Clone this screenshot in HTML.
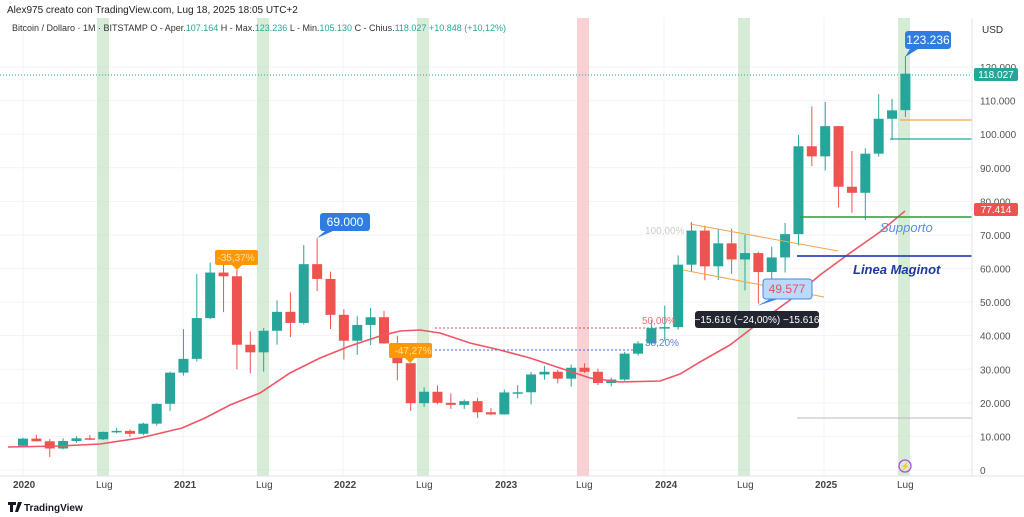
<!DOCTYPE html>
<html><head><meta charset="utf-8"><style>
body{margin:0;width:1024px;height:517px;background:#fff;font-family:"Liberation Sans",sans-serif;overflow:hidden;position:relative}
svg{position:absolute;left:0;top:0}
</style></head><body>
<svg id="s" width="1024" height="517" viewBox="0 0 1024 517" font-family="Liberation Sans, sans-serif">
<g id="grid" stroke="#f0f3fa" stroke-width="1"></g>
<g fill="#c8e6c9" opacity="0.75">
<rect x="97" y="18" width="12" height="458"/><rect x="257" y="18" width="12" height="458"/><rect x="417" y="18" width="12" height="458"/>
<rect x="738" y="18" width="12" height="458"/><rect x="898" y="18" width="12" height="458"/></g>
<rect x="577" y="18" width="12" height="458" fill="#f8c8cc" opacity="0.85"/>
<line x1="0" y1="75" x2="972" y2="75" stroke="#26a69a" stroke-dasharray="1,2" stroke-width="1"/>
<line x1="435" y1="328" x2="660" y2="328" stroke="#e05260" stroke-dasharray="2,2"/>
<line x1="435" y1="350" x2="640" y2="350" stroke="#3f6ed8" stroke-dasharray="2,2"/>
<line x1="0" y1="231" x2="640" y2="231" stroke="#ddd" stroke-dasharray="1,2" opacity="0"/>
<g id="c"></g>
<polyline fill="none" stroke="#ef5565" stroke-width="1.6" points="8,447 60,446 100,444 140,438 182,428 205,418 230,405 260,393 290,373 320,358 350,346 380,336 400,331 420,330 440,333 470,343 500,350 530,358 560,368 590,378 620,382 660,381 680,374 700,362 730,345 760,322 790,300 820,275 850,253 880,232 905,211"/>
<line x1="690" y1="224" x2="838" y2="251" stroke="#f5a54a" stroke-width="1"/>
<line x1="683" y1="270" x2="824" y2="297" stroke="#f5a54a" stroke-width="1"/>
<line x1="900" y1="120" x2="972" y2="120" stroke="#f5a54a" stroke-width="1.2"/>
<line x1="890" y1="139" x2="972" y2="139" stroke="#26a69a" stroke-width="1.2"/>
<line x1="800" y1="217" x2="972" y2="217" stroke="#2e9a3a" stroke-width="1.5"/>
<line x1="797" y1="256" x2="972" y2="256" stroke="#2949b8" stroke-width="1.8"/>
<line x1="797" y1="418" x2="972" y2="418" stroke="#bbb" stroke-width="1"/>
<text x="645" y="234" font-size="10" fill="#ccc">100,00%</text>
<text x="642" y="324" font-size="10" fill="#e57373">50,00%</text>
<text x="645" y="346" font-size="10" fill="#5c7fd8">38,20%</text>
<text x="880" y="232" font-size="13" font-style="italic" fill="#5b8fe0">Supporto</text>
<text x="853" y="274" font-size="13" font-weight="bold" font-style="italic" fill="#1c3a9e">Linea Maginot</text>
<!-- callouts -->
<rect x="905" y="31" width="46" height="18" rx="3" fill="#2f7de1"/><path d="M910 49 L905 57 L918 49Z" fill="#2f7de1"/>
<text x="928" y="44" font-size="12" fill="#fff" text-anchor="middle">123.236</text>
<rect x="320" y="213" width="50" height="18" rx="3" fill="#2f7de1"/><path d="M325 231 L317 238 L333 231Z" fill="#2f7de1"/>
<text x="345" y="226" font-size="12" fill="#fff" text-anchor="middle">69.000</text>
<rect x="215" y="250" width="43" height="15" rx="2" fill="#ff9800"/><path d="M232 265 L237 270 L242 265Z" fill="#ff9800"/>
<text x="236" y="261" font-size="10" fill="#ffe0b2" text-anchor="middle">-35,37%</text>
<rect x="389" y="343" width="43" height="15" rx="2" fill="#ff9800"/><path d="M405 358 L410 363 L415 358Z" fill="#ff9800"/>
<text x="413" y="354" font-size="10" fill="#ffe0b2" text-anchor="middle">-47,27%</text>
<rect x="763" y="279" width="49" height="20" rx="3" fill="#bcd8fb" stroke="#3f88e8"/><path d="M770 299 L757 306 L778 299Z" fill="#3f88e8"/>
<text x="787" y="293" font-size="12" fill="#e05260" text-anchor="middle">49.577</text>
<rect x="695" y="311" width="124" height="17" rx="3" fill="#222631"/>
<text x="757" y="323" font-size="10" fill="#fff" text-anchor="middle">−15.616 (−24,00%) −15.616</text>
<!-- axes -->
<line x1="972" y1="18" x2="972" y2="476" stroke="#e0e3eb"/>
<line x1="0" y1="476" x2="1024" y2="476" stroke="#e0e3eb"/>
<g id="yl" font-size="10" fill="#555"></g>
<text x="982" y="33" font-size="10" fill="#333">USD</text>
<rect x="974" y="68" width="44" height="13" rx="2" fill="#26a69a"/><text x="996" y="78" font-size="10" fill="#fff" text-anchor="middle">118.027</text>
<rect x="974" y="203" width="44" height="13" rx="2" fill="#ef5350"/><text x="996" y="213" font-size="10" fill="#fff" text-anchor="middle">77.414</text>
<g font-size="10" fill="#444">
<text x="13" y="488" font-weight="bold">2020</text><text x="96" y="488">Lug</text>
<text x="174" y="488" font-weight="bold">2021</text><text x="256" y="488">Lug</text>
<text x="334" y="488" font-weight="bold">2022</text><text x="416" y="488">Lug</text>
<text x="495" y="488" font-weight="bold">2023</text><text x="576" y="488">Lug</text>
<text x="655" y="488" font-weight="bold">2024</text><text x="737" y="488">Lug</text>
<text x="815" y="488" font-weight="bold">2025</text><text x="897" y="488">Lug</text></g>
<circle cx="905" cy="466" r="6" fill="none" stroke="#b04cd8" stroke-width="1.3"/><text x="905" y="469" font-size="8" fill="#b04cd8" text-anchor="middle">⚡</text>
<text x="7" y="13" font-size="10" fill="#222">Alex975 creato con TradingView.com, Lug 18, 2025 18:05 UTC+2</text>
<text x="12" y="31" font-size="9" fill="#333">Bitcoin / Dollaro · 1M · BITSTAMP  O - Aper.<tspan fill="#26a69a">107.164</tspan>  H - Max.<tspan fill="#26a69a">123.236</tspan>  L - Min.<tspan fill="#26a69a">105.130</tspan>  C - Chius.<tspan fill="#26a69a">118.027</tspan>  <tspan fill="#26a69a">+10.848 (+10,12%)</tspan></text>
<path d="M8 502 h8 v3 h-3 v7 h-3 v-7 h-2z M18 502 l-3 10 h3 l4 -10z" fill="#131722"/>
<text x="24" y="511" font-size="10" font-weight="bold" fill="#131722">TradingView</text>
</svg>
<script>
var d=[[7200,9600,6850,9350],[9350,10500,8450,8550],[8550,9200,3850,6400],[6400,9450,6150,8630],[8630,10050,8100,9450],[9450,10400,8900,9140],[9140,11450,8950,11350],[11350,12480,10950,11650],[11650,12100,9850,10780],[10780,14100,10400,13800],[13800,19900,13200,19700],[19700,29300,17600,28990],
[28990,41950,28100,33100],[33100,58350,32300,45240],[45240,61780,44950,58800],[58800,64900,47000,57700],[57700,59600,30000,37300],[37300,41300,28800,35040],[35040,42300,29300,41460],[41460,50500,37300,47100],[47100,52900,39600,43800],[43800,67000,43300,61300],[61300,69000,53300,56900],[56900,59100,42000,46200],
[46200,47900,32900,38500],[38500,45800,34300,43200],[43200,48200,37200,45500],[45500,47400,37600,37700],[37700,40000,26700,31800],[31800,31900,17600,19900],[19900,24600,18800,23300],[23300,25200,19600,20000],[20000,22800,18200,19400],[19400,21000,18200,20500],[20500,21500,15500,17200],[17200,18400,16300,16550],
[16550,23950,16500,23100],[23100,25250,21350,23150],[23150,29200,19550,28450],[28450,31000,26900,29250],[29250,29800,25800,27200],[27200,31400,24800,30450],[30450,31800,28900,29250],[29250,30200,25300,25900],[25900,27500,24900,26950],[26950,35200,26550,34650],[34650,38400,34100,37700],[37700,44700,37600,42250],
[42250,48950,38500,42550],[42550,63900,41800,61150],[61150,73800,59000,71300],[71300,72800,56500,60650],[60650,71950,56600,67500],[67500,71900,58400,62700],[62700,70000,53500,64600],[64600,65000,49577,58950],[58950,66500,52500,63300],[63300,73600,58800,70250],[70250,99800,66800,96400],[96400,108300,90500,93400],
[93400,109600,89200,102400],[102400,102500,78200,84350],[84350,95000,76600,82550],[82550,95800,74500,94200],[94200,111900,93300,104600],[104600,110500,98200,107100],[107164,123236,105130,118027]];
function Y(p){return 470-p*0.003358}
var h='',ns='http://www.w3.org/2000/svg';
d.forEach(function(c,i){var x=23+13.37*i,up=c[3]>=c[0],col=up?'#26a69a':'#ef5350';
var t=Y(Math.max(c[0],c[3])),b=Y(Math.min(c[0],c[3]));if(b-t<1.5)b=t+1.5;
h+='<line x1="'+x+'" x2="'+x+'" y1="'+Y(c[1])+'" y2="'+Y(c[2])+'" stroke="'+col+'" stroke-width="1"/>';
h+='<rect x="'+(x-5)+'" y="'+t+'" width="10" height="'+(b-t)+'" fill="'+col+'"/>';});
document.getElementById('c').innerHTML=h;
var g='',yl='';
for(var p=0;p<=120000;p+=10000){var y=Y(p);g+='<line x1="0" x2="972" y1="'+y+'" y2="'+y+'"/>';
yl+='<text x="980" y="'+(y+4)+'">'+(p==0?'0':(p/1000)+'.000')+'</text>';}
[23,183,343,504,664,824].forEach(function(x){g+='<line x1="'+x+'" x2="'+x+'" y1="18" y2="476"/>';});
document.getElementById('grid').innerHTML=g;document.getElementById('yl').innerHTML=yl;
</script>
</body></html>
